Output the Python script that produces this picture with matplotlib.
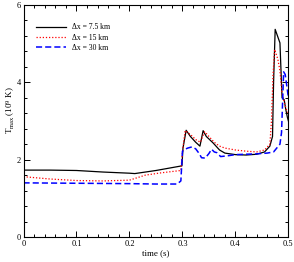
import matplotlib
matplotlib.use('Agg')
import matplotlib.pyplot as plt
from matplotlib.ticker import MultipleLocator

# time (s) and T_max (10^9 K), one series per resolution
t_75 = [0, 0.05, 0.1, 0.15, 0.2, 0.21, 0.25, 0.299, 0.301, 0.307, 0.315,
        0.325, 0.333, 0.336, 0.339, 0.345, 0.358, 0.37, 0.38, 0.40, 0.42,
        0.44, 0.455, 0.465, 0.47, 0.472, 0.475, 0.484, 0.488, 0.492, 0.495,
        0.498, 0.5]
T_75 = [1.73, 1.73, 1.72, 1.68, 1.65, 1.64, 1.72, 1.84, 2.3, 2.76, 2.6,
        2.45, 2.35, 2.55, 2.75, 2.6, 2.43, 2.25, 2.17, 2.13, 2.12,
        2.14, 2.2, 2.35, 2.6, 4.0, 5.37, 5.02, 3.6, 3.55, 3.3,
        3.1, 3.0]

t_15 = [0, 0.05, 0.1, 0.15, 0.2, 0.23, 0.26, 0.297, 0.3, 0.305, 0.315,
        0.325, 0.334, 0.338, 0.342, 0.35, 0.36, 0.37, 0.38, 0.40, 0.42,
        0.44, 0.455, 0.465, 0.468, 0.471, 0.474, 0.48, 0.484, 0.488, 0.492,
        0.496, 0.5]
T_15 = [1.56, 1.5, 1.46, 1.45, 1.47, 1.6, 1.66, 1.72, 2.2, 2.75, 2.65,
        2.52, 2.45, 2.6, 2.72, 2.6, 2.45, 2.35, 2.3, 2.25, 2.22,
        2.2, 2.25, 2.4, 3.0, 4.2, 4.85, 4.6, 4.3, 3.7, 3.5,
        3.3, 3.2]

t_30 = [0, 0.1, 0.2, 0.25, 0.29, 0.297, 0.3, 0.305, 0.31, 0.318, 0.325,
        0.332, 0.336, 0.343, 0.35, 0.355, 0.36, 0.365, 0.372, 0.385, 0.40,
        0.42, 0.44, 0.46, 0.472, 0.481, 0.484, 0.487, 0.491, 0.494, 0.497,
        0.5]
T_30 = [1.4, 1.39, 1.38, 1.37, 1.37, 1.45, 2.22, 2.27, 2.3, 2.33, 2.28,
        2.15, 2.05, 2.04, 2.16, 2.27, 2.2, 2.18, 2.08, 2.1, 2.13,
        2.14, 2.15, 2.17, 2.2, 2.35, 2.4, 2.7, 4.27, 4.2, 3.9,
        3.6]

labels = ['\u0394x = 7.5 km', '\u0394x = 15 km', '\u0394x = 30 km']

plt.rcParams['font.family'] = ['Liberation Serif', 'DejaVu Serif']
plt.rcParams['mathtext.fontset'] = 'custom'
plt.rcParams['mathtext.rm'] = 'Liberation Serif'
plt.rcParams['mathtext.it'] = 'Liberation Serif'

fig = plt.figure(figsize=(2.94, 2.62), dpi=100)
ax = fig.add_axes([0.080, 0.0954, 0.901, 0.8856])

ax.plot(t_75, T_75, color='black', lw=0.9, label=labels[0])
ax.plot(t_15, T_15, color='red', lw=0.9, ls=(0, (1, 1.5)), label=labels[1])
ax.plot(t_30, T_30, color='blue', lw=1.1, ls=(0, (4, 2)), label=labels[2])

ax.set_xlim(0, 0.5)
ax.set_ylim(0, 6)
ax.xaxis.set_major_locator(MultipleLocator(0.1))
ax.xaxis.set_minor_locator(MultipleLocator(0.02))
ax.yaxis.set_major_locator(MultipleLocator(2))
ax.yaxis.set_minor_locator(MultipleLocator(0.4))
ax.set_xticks([0, 0.1, 0.2, 0.3, 0.4, 0.5])
ax.set_xticklabels(['0', '0.1', '0.2', '0.3', '0.4', '0.5'])
ax.tick_params(which='both', direction='in', top=True, right=True,
               labelsize=6, pad=2, width=0.7)
ax.tick_params(which='major', length=4)
ax.tick_params(which='minor', length=2.5)
for sp in ax.spines.values():
    sp.set_linewidth(0.8)

ax.set_xlabel('time (s)', fontsize=6.5, labelpad=1)
ax.set_ylabel(r'T$_{\rm max}$ (10$^{9}$ K)', fontsize=6.5)
ax.yaxis.set_label_coords(-0.025, 0.545)

ax.legend(loc='upper left', bbox_to_anchor=(0.02, 0.95), frameon=False,
          fontsize=5.5, handlelength=4, labelspacing=0.3, handletextpad=0.8)

fig.savefig('out.png', dpi=100)
